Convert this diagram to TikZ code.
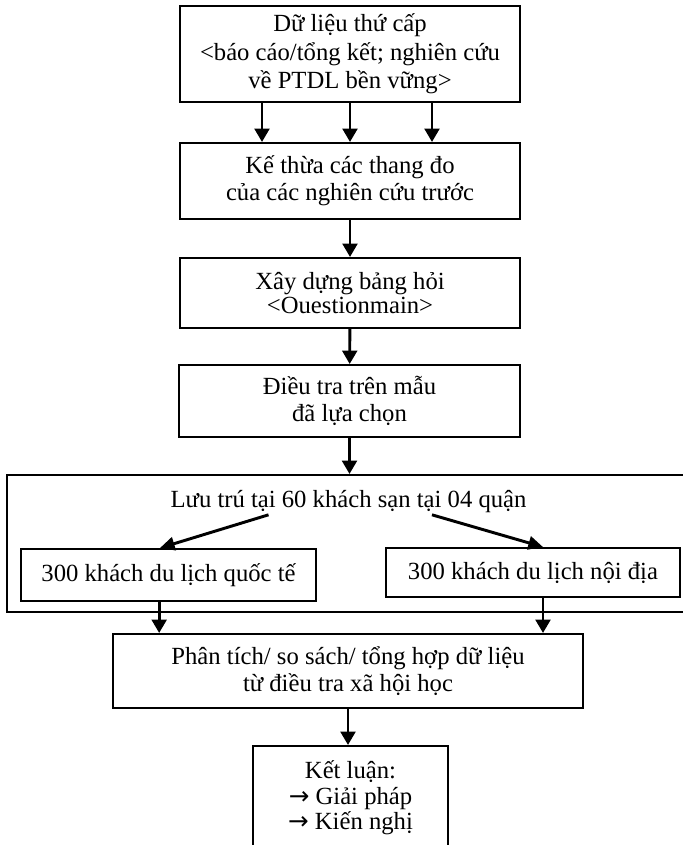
\documentclass[tikz,border=0pt]{standalone}
\usepackage{fontspec}
\setmainfont{Liberation Serif}
\newfontfamily\arrowfont{DejaVu Sans}
\usetikzlibrary{arrows.meta}
\begin{document}
\begin{tikzpicture}[x=0.75pt, y=-0.75pt,
  box/.style={draw, line width=1.5pt, align=center, inner sep=0pt, font=\fontsize{18.5}{20.5}\selectfont},
  arr/.style={line width=2.2pt, -{Triangle[length=10pt,width=11pt]}},
  darr/.style={line width=2.2pt, -{Triangle[length=11pt,width=10pt]}}]
\useasboundingbox (0,0) rectangle (682,845);
\node[box, minimum width=255pt, minimum height=72pt] (src) at (350,54){Dữ liệu thứ cấp\\[1pt]<báo cáo/tổng kết; nghiên cứu\\[1pt]về PTDL bền vững>};
\node[box, minimum width=255pt, minimum height=57pt] (scales) at (350,181){Kế thừa các thang đo\\của các nghiên cứu trước};
\node[box, minimum width=255pt, minimum height=52.5pt] (quest) at (350,293){Xây dựng bảng hỏi\\[-2pt]<Ouestionmain>};
\node[box, minimum width=255.75pt, minimum height=54pt] (survey) at (349.5,401){Điều tra trên mẫu\\đã lựa chọn};
\draw[arr]([xshift=-66pt]src.south) -- ([xshift=-66pt]src.south |- scales.north);
\draw[arr](src.south) -- (scales.north);
\draw[arr]([xshift=61.5pt]src.south) -- ([xshift=61.5pt]src.south |- scales.north);
\draw[arr](scales) -- (quest);
\draw[arr](quest) -- (survey);
\node[box, minimum width=512.25pt, minimum height=102.75pt] (stay) at (348.5,543.5){};
\node[font=\fontsize{18.5}{20.5}\selectfont, inner sep=1pt] (staytitle) at (348.5,502){Lưu trú tại 60 khách sạn tại 04 quận};
\node[box, minimum width=221.25pt, minimum height=39pt] (intl) at (168.5,575){300 khách du lịch quốc tế};
\node[box, minimum width=220.5pt, minimum height=36.75pt] (dom) at (533,572.5){300 khách du lịch nội địa};
\draw[arr](survey.south) -- (survey.south |- stay.north);
\draw[darr]([xshift=-60pt]staytitle.south) -- ([xshift=-6.4pt]intl.north);
\draw[darr]([xshift=62.6pt]staytitle.south) -- ([xshift=7.5pt]dom.north);
\node[box, minimum width=352.5pt, minimum height=55.5pt] (anal) at (348,671){Phân tích/ so sách/ tổng hợp dữ liệu\\từ điều tra xã hội học};
\node[box, minimum width=146.25pt, minimum height=78pt] (concl) at (350.5,798){Kết luận:\\[-1.5pt]{\arrowfont →} Giải pháp\\[-1.5pt]{\arrowfont →} Kiến nghị};
\draw[arr]([xshift=-7pt]intl.south) -- ([xshift=-7pt]intl.south |- anal.north);
\draw[arr]([xshift=7.5pt]dom.south) -- ([xshift=7.5pt]dom.south |- anal.north);
\draw[arr](anal.south) -- (anal.south |- concl.north);

\end{tikzpicture}
\end{document}
